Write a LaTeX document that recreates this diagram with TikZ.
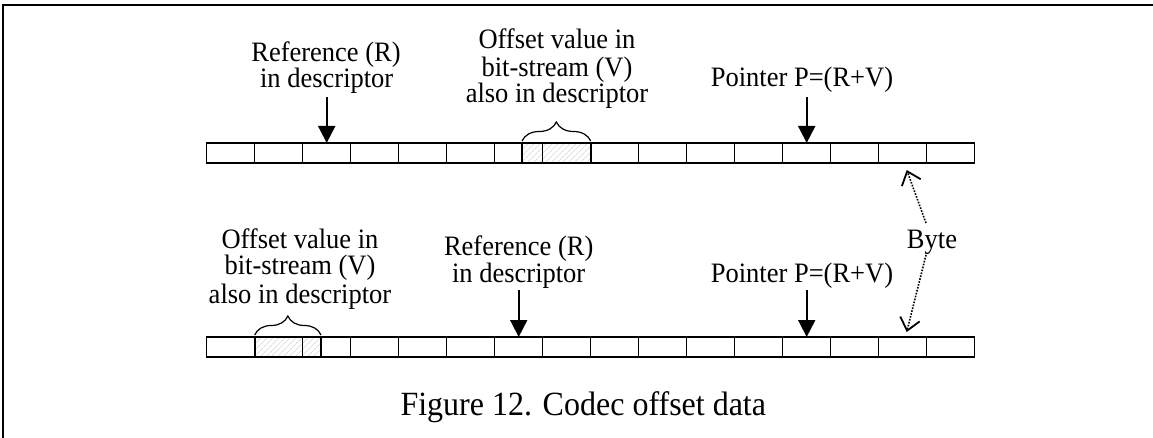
\documentclass[tikz,border=0pt]{standalone}
\usepackage{fontspec}
\usepackage{graphicx}
\setmainfont{Liberation Serif}
\usetikzlibrary{arrows.meta,decorations.pathreplacing,patterns.meta}
\newcommand{\tallt}[1]{\scalebox{1}[1.06]{#1}}
\begin{document}
\begin{tikzpicture}[x=1pt,y=-1pt,
  cell/.style={draw,line width=1.2pt,minimum width=48pt,minimum height=20pt,inner sep=0pt,outer sep=0pt},
  lbl/.style={font=\fontsize{26.5}{30}\selectfont,inner sep=0pt,anchor=base},
  captxt/.style={font=\fontsize{32}{36}\selectfont,inner sep=0pt,anchor=base},
  ptr/.style={line width=1.8pt,-{Triangle[length=17pt,width=17pt]}},
  bytearr/.style={line width=1.6pt,dash pattern=on 1.6pt off 1.4pt,-{Straight Barb[length=12pt,width=20pt,line width=1.8pt]}},
  hatch/.style={pattern={Lines[angle=45,distance=4pt,line width=0.6pt]},pattern color=gray!45},
  hbox/.style={line width=1.8pt},
  brc/.style={decorate,decoration={brace,amplitude=19pt},line width=1.2pt}]
\useasboundingbox (0,0) rectangle (1153,438);
% frame
\draw[line width=2pt] (2.5,438) -- (2.5,5) -- (1153,5);
% hatched fills
\fill[hatch] (522,143) rectangle (590.7,163);
\fill[hatch] (254.7,337) rectangle (321,357);
% cells
\foreach \k in {1,...,16} {
  \node[cell] (t\k) at ({230.7+48*(\k-1)},153) {};
  \node[cell] (b\k) at ({230.7+48*(\k-1)},347) {};
}
\draw[hbox] (522,143) rectangle (590.7,163);
\draw[hbox] (254.7,337) rectangle (321,357);
% braces
\draw[brc] (522,141) -- (590.7,141);
\draw[brc] (254.7,335) -- (321,335);
% top labels
\node[lbl] (tr1) at (326,62) {\tallt{Reference (R)}};
\node[lbl] (tr2) at (326.7,88) {\tallt{in descriptor}};
\node[lbl] (to1) at (557,49) {\tallt{Offset value in}};
\node[lbl] (to2) at (557,76.5) {\tallt{bit-stream (V)}};
\node[lbl] (to3) at (557,103) {\tallt{also in descriptor}};
\node[lbl] (tp) at (802,87) {\tallt{Pointer P=(R+V)}};
% bottom labels
\node[lbl] (bo1) at (300,248) {\tallt{Offset value in}};
\node[lbl] (bo2) at (300,275) {\tallt{bit-stream (V)}};
\node[lbl] (bo3) at (300,303) {\tallt{also in descriptor}};
\node[lbl] (br1) at (518.7,255) {\tallt{Reference (R)}};
\node[lbl] (br2) at (518.7,282) {\tallt{in descriptor}};
\node[lbl] (bp) at (802,282) {\tallt{Pointer P=(R+V)}};
\node[lbl] (byte) at (932,248) {\tallt{Byte}};
\node[captxt] (caption) at (583.3,415) {\tallt{Figure 12. Codec offset data}};
% pointer arrows
\coordinate (tra) at (326.7,97);
\coordinate (tpa) at (806.7,97);
\coordinate (bra) at (518.7,290);
\coordinate (bpa) at (806.7,290);
\draw[ptr] (tra) -- (t3.north);
\draw[ptr] (tpa) -- (t13.north);
\draw[ptr] (bra) -- (b7.north);
\draw[ptr] (bpa) -- (b13.north);
% byte arrows
\coordinate (bya) at (926,223);
\coordinate (byb) at (926,255);
\draw[bytearr] (bya) -- ([xshift=4pt,yshift=-7pt]t15.south);
\draw[bytearr] (byb) -- ([xshift=4pt,yshift=5pt]b15.north);
\end{tikzpicture}
\end{document}
